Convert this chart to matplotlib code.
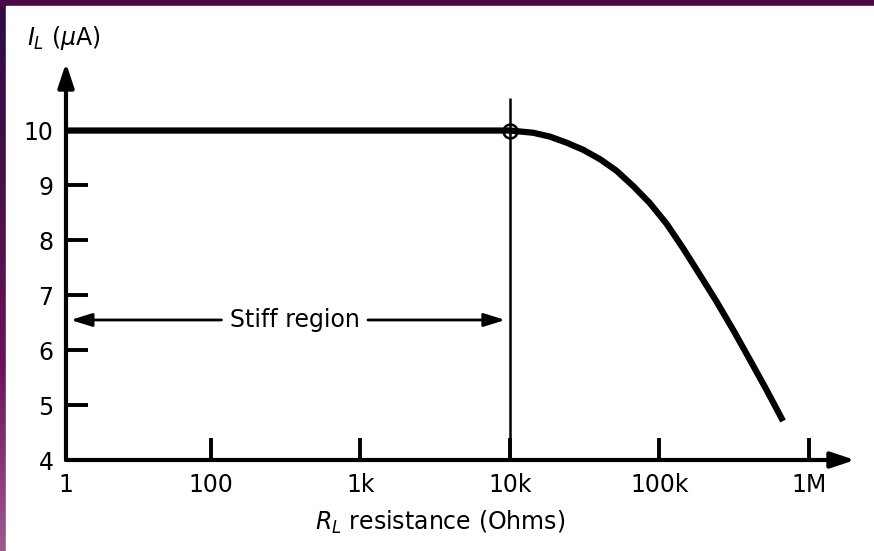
import numpy as np
from matplotlib import pyplot as plt
from matplotlib.colors import LinearSegmentedColormap
from matplotlib.patches import Rectangle

# load current vs load resistance
r_ohms = [10.7, 1.0e4, 1.43e4, 1.85e4, 2.39e4, 3.09e4, 4.0e4, 5.16e4, 6.68e4,
          8.63e4, 1.12e5, 1.44e5, 1.87e5, 2.41e5, 3.12e5, 4.03e5, 5.21e5, 6.73e5]
i_ua = [10.0, 10.0, 9.96, 9.89, 9.78, 9.65, 9.48, 9.27, 8.99,
        8.68, 8.30, 7.86, 7.37, 6.89, 6.37, 5.83, 5.28, 4.71]

x_ticks = [10.7, 1e2, 1e3, 1e4, 1e5, 1e6]
x_labels = ["1", "100", "1k", "10k", "100k", "1M"]
y_ticks = [4, 5, 6, 7, 8, 9, 10]

knee_r = 1e4
knee_i = 10
stiff_level = 6.55

W, H = 874, 551
fig = plt.figure(figsize=(W / 100, H / 100), dpi=100)
plt.rcParams['font.family'] = ['DejaVu Sans']

# purple frame of the slide behind the scan
bg = fig.add_axes([0, 0, 1, 1])
frame_cmap = LinearSegmentedColormap.from_list(
    "frame", ["#2c0d42", "#45104a", "#6a1458", "#9c5a8c"])
grad = np.linspace(0, 1, 256).reshape(-1, 1)
bg.imshow(grad, extent=[0, 1, 0, 1], aspect='auto', cmap=frame_cmap, origin='upper')
bg.add_patch(Rectangle((0, 1 - 6 / H), 1, 6 / H, color="#470a47", transform=bg.transAxes))
bg.add_patch(Rectangle((6 / W, 0), 1, 1 - 6 / H, color="white", transform=bg.transAxes))
bg.set_xlim(0, 1)
bg.set_ylim(0, 1)
bg.axis('off')

ax = fig.add_axes([66 / W, 1 - 460 / H, (855 - 66) / W, (460 - 63) / H])
ax.patch.set_alpha(0)
ax.set_xscale('log')
ax.set_xlim(10.7, 2.04e6)
ax.set_ylim(4, 11.23)
for s in ax.spines.values():
    s.set_visible(False)

# axes drawn as arrows
arrow_kw = dict(arrowstyle='-|>,head_length=0.9,head_width=0.3', lw=3, color='black',
                mutation_scale=16, shrinkA=0, shrinkB=0)
ax.annotate("", xy=(0, 1), xytext=(0, 0), xycoords='axes fraction', arrowprops=arrow_kw)
ax.annotate("", xy=(1, 0), xytext=(0, 0), xycoords='axes fraction', arrowprops=arrow_kw)

ax.plot(r_ohms, i_ua, color='black', lw=4.5, solid_capstyle='butt', zorder=3)
ax.plot([knee_r], [knee_i], 'o', ms=10, mfc='none', mec='black', mew=1.8, zorder=4)
ax.vlines(knee_r, 4, 10.59, color='black', lw=1.8)

# stiff region double arrow
stiff_kw = dict(arrowstyle='-|>,head_length=0.8,head_width=0.25', lw=2, color='black',
                mutation_scale=16, shrinkA=4, shrinkB=0)
ax.annotate("Stiff region", xy=(11.5, stiff_level), xytext=(363, stiff_level),
            ha='center', va='center', fontsize=17, arrowprops=stiff_kw)
ax.annotate("Stiff region", xy=(9300, stiff_level), xytext=(363, stiff_level),
            ha='center', va='center', fontsize=17, color='none', arrowprops=stiff_kw)

ax.set_xticks(x_ticks)
ax.set_xticklabels(x_labels)
ax.xaxis.set_minor_locator(plt.NullLocator())
ax.set_yticks(y_ticks)
ax.tick_params(axis='both', direction='in', length=16, width=2.8, labelsize=17, pad=9)

fig.text(27 / W, 1 - 45 / H, r"$I_L$ ($\mu$A)", fontsize=17, ha='left', va='baseline')
fig.text(440 / W, 1 - 530 / H, r"$R_L$ resistance (Ohms)", fontsize=17,
         ha='center', va='baseline')

fig.savefig("out.png", dpi=100)
